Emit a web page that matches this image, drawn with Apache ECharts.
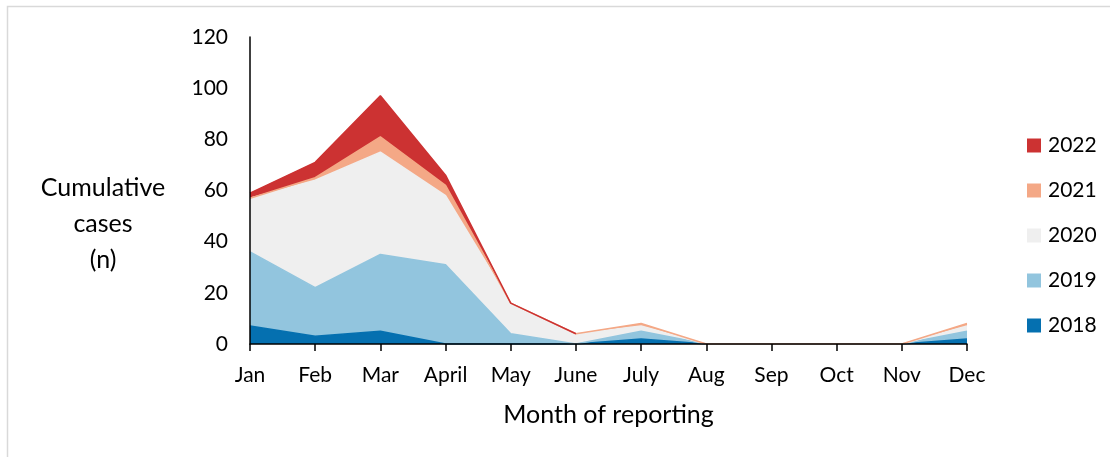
<!DOCTYPE html>
<html>
<head>
<meta charset="utf-8">
<script src="https://cdn.jsdelivr.net/npm/echarts@6/dist/echarts.min.js"></script>
<style>
  html, body { margin: 0; padding: 0; background: #fff; }
  #mainCanvas { width: 1110px; height: 457px; }
</style>
</head>
<body>
<div id="mainCanvas"></div>
<script>
var myChart = echarts.init(document.getElementById("mainCanvas"));

var months = ["Jan", "Feb", "Mar", "April", "May", "June", "July", "Aug", "Sep", "Oct", "Nov", "Dec"];
var yTicks = [0, 20, 40, 60, 80, 100, 120];
var cases2018 = [7, 3, 5, 0, 0, 0, 2, 0, 0, 0, 0, 2];
var cases2019 = [29, 19, 30, 31, 4, 0, 3, 0, 0, 0, 0, 3];
var cases2020 = [21, 42, 40, 27, 12, 4, 2, 0, 0, 0, 0, 2];
var cases2021 = [0, 1, 6, 4, 0, 0, 1, 0, 0, 0, 0, 1];
var cases2022 = [2, 6, 16, 4, 0, 0, null, null, null, null, null, null];

var years = ["2018", "2019", "2020", "2021", "2022"];
var colors = ["#0570b0", "#92c5de", "#efefef", "#f4a886", "#cc3232"];
var values = [cases2018, cases2019, cases2020, cases2021, cases2022];

var font = "Lato, 'Open Sans', sans-serif";

var series = [];
for (var i = 0; i < years.length; i++) {
    series.push({
        name: years[i],
        type: 'line',
        stack: 'total',
        data: values[i],
        symbol: 'none',
        silent: true,
        color: colors[i],
        lineStyle: { width: 1.5, color: colors[i] },
        areaStyle: { color: colors[i], opacity: 1 }
    });
}

var option = {
    animation: false,
    textStyle: { fontFamily: font },
    graphic: [{
        type: 'rect',
        shape: { x: 7.5, y: 6.5, width: 1200, height: 600 },
        style: { fill: 'none', stroke: '#d9d9d9', lineWidth: 1.5 },
        silent: true
    }, {
        type: 'text',
        silent: true,
        style: {
            x: 103,
            y: 224,
            text: 'Cumulative\ncases\n(n)',
            font: '25px ' + font,
            fill: '#000',
            align: 'center',
            verticalAlign: 'middle',
            lineHeight: 36
        }
    }],
    legend: {
        data: ["2022", "2021", "2020", "2019", "2018"],
        orient: 'vertical',
        left: 1027,
        top: 135,
        padding: 0,
        icon: 'rect',
        itemWidth: 14,
        itemHeight: 14,
        itemGap: 24,
        textStyle: { fontSize: 21, color: '#000', fontFamily: font, padding: [0, 0, 0, 2] }
    },
    grid: { left: 250, right: 143, top: 37, bottom: 113 },
    xAxis: {
        type: 'category',
        data: months,
        boundaryGap: false,
        z: 5,
        name: 'Month of reporting',
        nameLocation: 'middle',
        nameGap: 58,
        nameTextStyle: { fontSize: 25, color: '#000', fontFamily: font },
        axisLine: { lineStyle: { color: '#000', width: 1.5 } },
        axisTick: { show: true, length: 7, lineStyle: { color: '#000', width: 1.5 } },
        axisLabel: { fontSize: 21, color: '#000', margin: 21, fontFamily: font },
        splitLine: { show: false }
    },
    yAxis: {
        type: 'value',
        min: yTicks[0],
        max: yTicks[yTicks.length - 1],
        interval: 20,
        z: 5,
        axisLine: { show: true, lineStyle: { color: '#000', width: 1.5 } },
        axisTick: { show: false },
        axisLabel: { fontSize: 21, color: '#000', margin: 22, fontFamily: font },
        splitLine: { show: false }
    },
    series: series
};

myChart.setOption(option);
</script>
</body>
</html>
